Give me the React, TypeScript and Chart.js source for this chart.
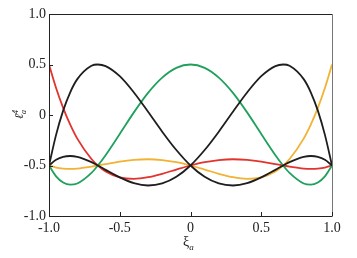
import React, { useEffect, useRef } from "react";
import { Chart, registerables } from "chart.js";

Chart.register(...registerables);

const xi = [-1, -0.95, -0.9, -0.85, -0.8, -0.7, -0.6547, -0.6, -0.5, -0.4, -0.3, -0.2, -0.1, 0, 0.1, 0.2, 0.3, 0.4, 0.5, 0.6, 0.6547, 0.7, 0.8, 0.85, 0.9, 0.95, 1];

const redSeries = [0.5, 0.268, 0.071, -0.096, -0.234, -0.436, -0.5, -0.558, -0.617, -0.632, -0.616, -0.582, -0.54, -0.5, -0.467, -0.446, -0.438, -0.444, -0.461, -0.486, -0.5, -0.511, -0.53, -0.533, -0.53, -0.52, -0.5];
const orangeSeries = [-0.5, -0.52, -0.53, -0.533, -0.53, -0.511, -0.5, -0.486, -0.461, -0.444, -0.438, -0.446, -0.467, -0.5, -0.54, -0.582, -0.616, -0.632, -0.617, -0.558, -0.5, -0.436, -0.234, -0.096, 0.071, 0.268, 0.5];
const blackLeftSeries = [-0.5, -0.197, 0.043, 0.225, 0.355, 0.487, 0.5, 0.484, 0.384, 0.223, 0.032, -0.165, -0.347, -0.5, -0.612, -0.678, -0.698, -0.675, -0.618, -0.543, -0.5, -0.467, -0.415, -0.406, -0.414, -0.444, -0.5];
const blackRightSeries = [-0.5, -0.444, -0.414, -0.406, -0.415, -0.467, -0.5, -0.543, -0.618, -0.675, -0.698, -0.678, -0.612, -0.5, -0.347, -0.165, 0.032, 0.223, 0.384, 0.484, 0.5, 0.487, 0.355, 0.225, 0.043, -0.197, -0.5];
const greenSeries = [-0.5, -0.608, -0.669, -0.69, -0.678, -0.573, -0.5, -0.398, -0.188, 0.026, 0.219, 0.37, 0.467, 0.5, 0.467, 0.37, 0.219, 0.026, -0.188, -0.398, -0.5, -0.573, -0.678, -0.69, -0.669, -0.608, -0.5];

const tickValues = [-1, -0.5, 0, 0.5, 1];
const fmt = (v: number) => (v === 0 ? "0" : v.toFixed(1));

const SERIF = "'Liberation Serif', 'Times New Roman', serif";

const decoPlugin = {
  id: "deco",
  afterDraw(chart: any) {
    const { ctx, chartArea } = chart;
    const { left, right, top, bottom } = chartArea;
    const xs = chart.scales.x;
    const ys = chart.scales.y;
    ctx.save();
    ctx.lineWidth = 1;
    ctx.strokeStyle = "#222";
    ctx.beginPath();
    ctx.moveTo(left + 0.5, bottom + 0.5);
    ctx.lineTo(left + 0.5, top + 0.5);
    ctx.lineTo(right + 0.5, top + 0.5);
    ctx.moveTo(left + 0.5, bottom + 0.5);
    ctx.lineTo(right + 0.5, bottom + 0.5);
    ctx.stroke();
    ctx.strokeStyle = "#777";
    ctx.beginPath();
    ctx.moveTo(right + 0.5, top + 0.5);
    ctx.lineTo(right + 0.5, bottom + 0.5);
    ctx.stroke();
    ctx.strokeStyle = "#222";
    ctx.beginPath();
    for (const t of tickValues) {
      const px = Math.round(xs.getPixelForValue(t)) + 0.5;
      ctx.moveTo(px, bottom);
      ctx.lineTo(px, bottom - 4);
      const py = Math.round(ys.getPixelForValue(t)) + 0.5;
      ctx.moveTo(left, py);
      ctx.lineTo(left + 4, py);
    }
    ctx.stroke();
    ctx.fillStyle = "#222";
    ctx.textBaseline = "alphabetic";
    ctx.textAlign = "left";
    ctx.font = `14px ${SERIF}`;
    const xiW = ctx.measureText("ξ").width;
    ctx.fillText("ξ", 183, 246);
    ctx.font = `italic 9px ${SERIF}`;
    ctx.fillText("a", 183 + xiW, 250);
    ctx.translate(23, (top + bottom) / 2 + 4);
    ctx.rotate(-Math.PI / 2);
    ctx.font = `italic 12px ${SERIF}`;
    const lw = ctx.measureText("ℓ").width;
    ctx.fillText("ℓ", 0, 0);
    ctx.font = `italic 8px ${SERIF}`;
    ctx.fillText("a", lw, 3);
    ctx.fillText("4", lw, -5);
    ctx.restore();
  },
};

export default function App() {
  const ref = useRef<HTMLCanvasElement | null>(null);

  useEffect(() => {
    if (!ref.current) return;
    const mk = (ys: number[], color: string) => ({
      data: xi.map((x, i) => ({ x, y: ys[i] })),
      borderColor: color,
      borderWidth: 1.8,
      pointRadius: 0,
      fill: false,
      cubicInterpolationMode: "monotone" as const,
    });
    const chart = new Chart(ref.current, {
      type: "line",
      data: {
        datasets: [
          mk(blackLeftSeries, "#1e1e1e"),
          mk(blackRightSeries, "#1e1e1e"),
          mk(greenSeries, "#1fa15c"),
          mk(redSeries, "#e2332e"),
          mk(orangeSeries, "#f2b233"),
        ],
      },
      plugins: [decoPlugin],
      options: {
        animation: false,
        responsive: false,
        maintainAspectRatio: false,
        layout: { padding: { top: 14, right: 25, left: 0, bottom: 0 } },
        plugins: { legend: { display: false }, tooltip: { enabled: false } },
        scales: {
          x: {
            type: "linear",
            min: -1,
            max: 1,
            afterFit: (s: any) => {
              s.height = 42;
            },
            afterBuildTicks: (s: any) => {
              s.ticks = tickValues.map((v) => ({ value: v }));
            },
            grid: { display: false, drawTicks: false },
            border: { display: false },
            ticks: {
              padding: 4,
              color: "#222",
              font: { family: SERIF, size: 14 },
              maxRotation: 0,
              callback: (v: any) => fmt(Number(v)),
            },
          },
          y: {
            type: "linear",
            min: -1,
            max: 1,
            afterFit: (s: any) => {
              s.width = 49;
            },
            afterBuildTicks: (s: any) => {
              s.ticks = tickValues.map((v) => ({ value: v }));
            },
            grid: { display: false, drawTicks: false },
            border: { display: false },
            ticks: {
              padding: 3,
              color: "#222",
              font: { family: SERIF, size: 14 },
              callback: (v: any) => fmt(Number(v)),
            },
          },
        },
      },
    });
    return () => chart.destroy();
  }, []);

  return (
    <div style={{ position: "absolute", left: 0, top: 0, width: 357, height: 258, background: "#fff" }}>
      <canvas ref={ref} width={357} height={258} style={{ width: 357, height: 258, display: "block" }} />
    </div>
  );
}
